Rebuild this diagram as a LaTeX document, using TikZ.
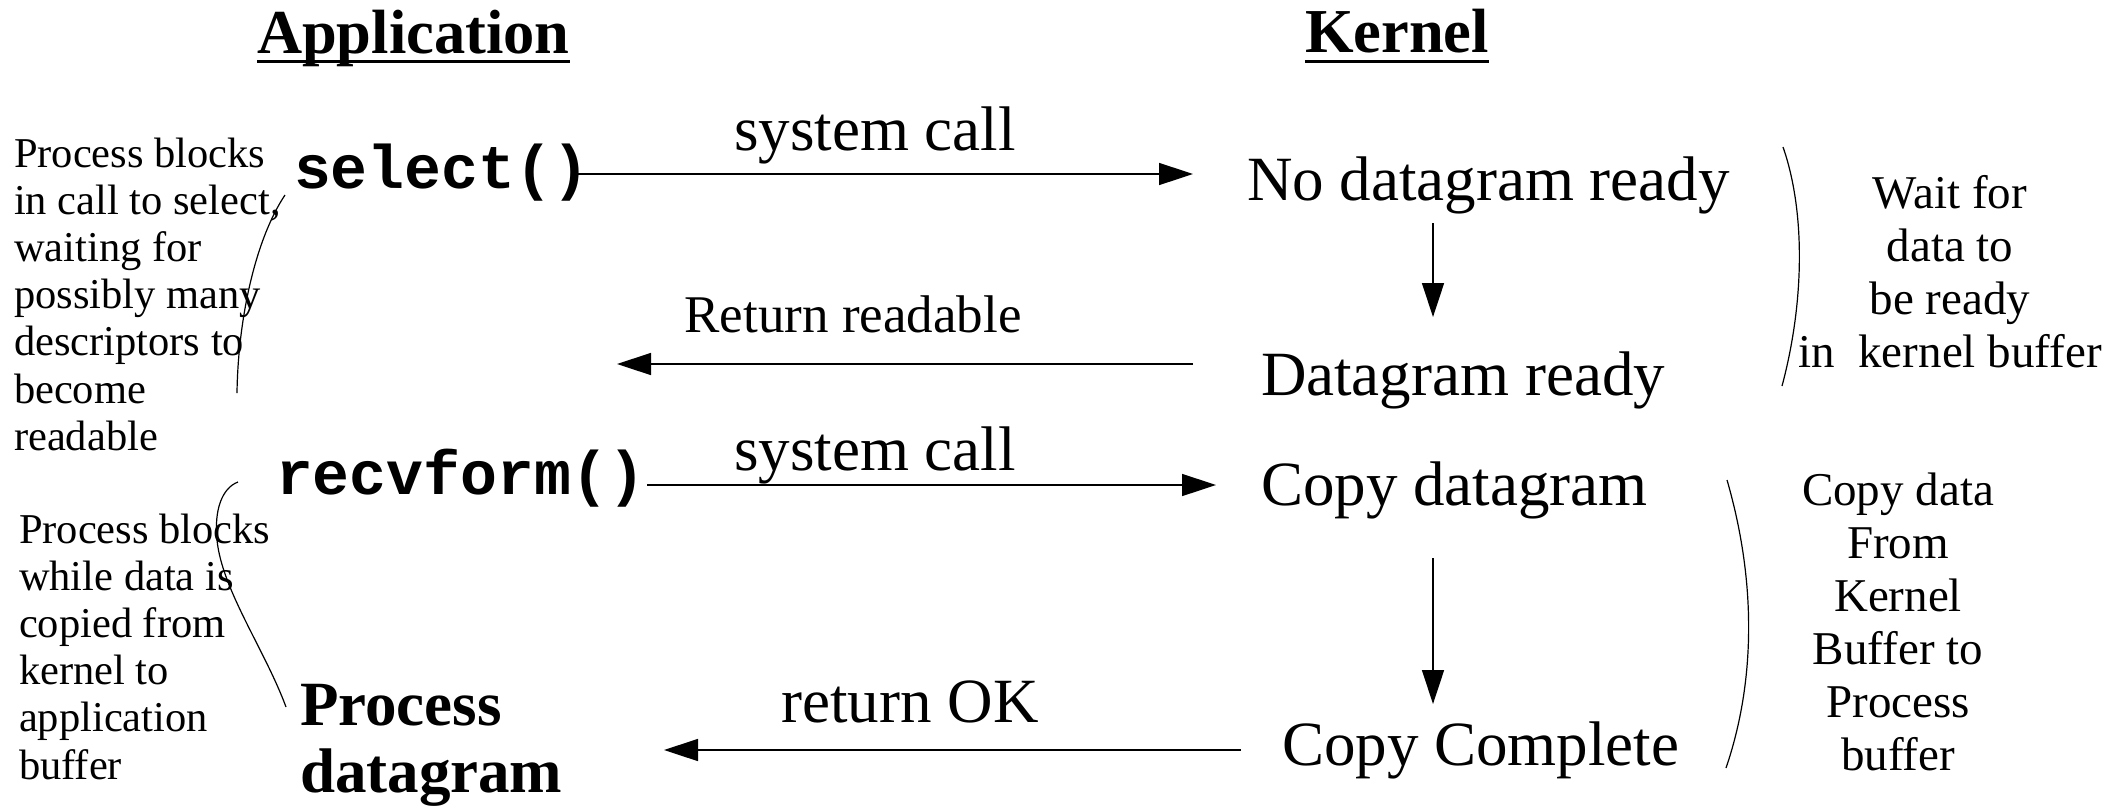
\documentclass[tikz,border=0pt]{standalone}
\usepackage{fontspec}
\setmainfont{Liberation Serif}
\setmonofont{Liberation Mono}
\usetikzlibrary{arrows.meta}
\begin{document}
\begin{tikzpicture}[x=1pt,y=-1pt,
  every node/.style={inner sep=0pt, outer sep=0pt},
  head/.style={font=\bfseries\fontsize{62.5}{70}\selectfont},
  code/.style={font=\ttfamily\bfseries\fontsize{61.5}{66}\selectfont},
  big/.style={font=\fontsize{63}{70}\selectfont},
  bigb/.style={font=\bfseries\fontsize{63}{67}\selectfont},
  lnote/.style={font=\fontsize{42.5}{47.2}\selectfont},
  rnote/.style={font=\fontsize{47}{53}\selectfont},
  midlbl/.style={font=\fontsize{53}{60}\selectfont},
  arr/.style={line width=1.5pt, -{Triangle[length=34pt,width=22pt]}},
  brk/.style={line width=1.2pt},
  uline/.style={line width=3pt}]
\useasboundingbox (0,0) rectangle (2114,807);

% headings
\node[head, anchor=base west] (app) at (257,53) {Application};
\node[head, anchor=base west] (ker) at (1305,52) {Kernel};
\draw[uline] ([shift={(0,8)}]app.base west) -- ([shift={(0,8)}]app.base east);
\draw[uline] ([shift={(0,9)}]ker.base west) -- ([shift={(0,9)}]ker.base east);

% application side
\node[code, anchor=base west] (sel) at (294,188) {select()};
\node[code, anchor=base west] (recv) at (276,494) {recvform()};
\node[bigb, anchor=base west] (pd) at (300,725)
  {\begin{tabular}[t]{@{}l@{}}Process\\datagram\end{tabular}};

% kernel side
\node[big, anchor=base west] (nodg) at (1247,200) {No datagram ready};
\node[big, anchor=base west] (dgr) at (1261,395) {Datagram ready};
\node[big, anchor=base west] (cpd) at (1261,505) {Copy datagram};
\node[big, anchor=base west] (cpc) at (1282,765) {Copy Complete};

% arrow labels
\node[big, anchor=base] (sc1) at (875,150) {system call};
\node[midlbl, anchor=base] (rr) at (853,332) {Return readable};
\node[big, anchor=base] (sc2) at (875,470) {system call};
\node[big, anchor=base] (rok) at (910,722) {return OK};

% notes
\node[lnote, anchor=base west] (n1) at (14,167)
  {\begin{tabular}[t]{@{}l@{}}Process blocks\\in call to select,\\waiting for\\possibly many\\descriptors to\\become\\readable\end{tabular}};
\node[lnote, anchor=base west] (n2) at (19,543)
  {\begin{tabular}[t]{@{}l@{}}Process blocks\\while data is\\copied from\\kernel to\\application\\buffer\end{tabular}};
\node[rnote, anchor=base] (n3) at (1950,208)
  {\begin{tabular}[t]{@{}c@{}}Wait for\\data to\\be ready\\in\ \ kernel buffer\end{tabular}};
\node[rnote, anchor=base] (n4) at (1898,505)
  {\begin{tabular}[t]{@{}c@{}}Copy data\\From\\Kernel\\Buffer to\ \\Process\\buffer\end{tabular}};

% free ends
\coordinate (rrtip) at (617,364);
\coordinate (oktip) at (664,750);

% arrows
\draw[arr] ([shift={(-17,-14)}]sel.base east) -- ([shift={(-54,-26)}]nodg.base west);
\draw[arr] ([shift={(-68,-31)}]dgr.base west) -- (rrtip);
\draw[arr] ([shift={(2,-9)}]recv.base east) -- ([shift={(-45,-20)}]cpd.base west);
\draw[arr] ([shift={(-41,-15)}]cpc.base west) -- (oktip);
\draw[arr] ([shift={(186,23)}]nodg.base west) -- ([shift={(172,-78)}]dgr.base west);
\draw[arr] ([shift={(172,53)}]cpd.base west) -- ([shift={(151,-61)}]cpc.base west);

% brackets
\draw[brk] (1783,147) .. controls (1805,210) and (1805,300) .. (1782,386);
\draw[brk] (1727,480) .. controls (1756,580) and (1756,680) .. (1726,768);
\draw[brk] (285,195) .. controls (255,240) and (238,320) .. (237,393);
\draw[brk] (238,482) .. controls (222,488) and (214,510) .. (217,540)
           .. controls (222,590) and (265,650) .. (286,707);
\end{tikzpicture}
\end{document}
